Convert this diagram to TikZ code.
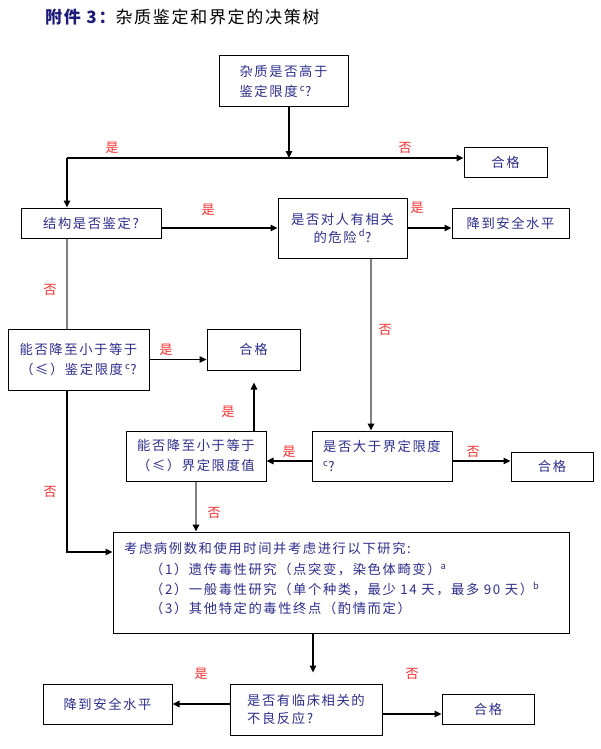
\documentclass[tikz,border=0pt]{standalone}
\usepackage{fontspec}
\setmainfont{Noto Sans CJK SC}[LetterSpace=12]
\newfontfamily\titlefont{Noto Sans CJK SC}[LetterSpace=10]
\usetikzlibrary{arrows.meta,calc}
\definecolor{txtblue}{RGB}{45,45,140}
\definecolor{lblred}{RGB}{255,45,45}
\definecolor{titlenavy}{RGB}{28,28,120}
\definecolor{linegray}{RGB}{128,128,128}
\begin{document}
\begin{tikzpicture}[x=1pt,y=-1pt,
  box/.style={draw=black,line width=1pt,inner sep=0pt,text=txtblue,font=\fontsize{13.3}{20}\selectfont},
  lbl/.style={text=lblred,font=\fontsize{13}{15}\selectfont,inner sep=0pt},
  jline/.style={anchor=west,inner sep=0pt,text=txtblue,font=\fontsize{13.3}{15}\selectfont},
  arr/.style={line width=1.2pt,-{Triangle[length=7pt,width=6.5pt]}},
  garr/.style={draw=linegray,line width=1.8pt,-{Triangle[length=7pt,width=6.5pt,color=black]}},
  gline/.style={draw=linegray,line width=1.8pt},
]
\useasboundingbox (0,0) rectangle (600,749);

% title
\node[anchor=west,inner sep=0pt] (title) at (45,17)
  {\titlefont\fontsize{17}{19}\selectfont\textcolor{titlenavy}{\bfseries 附件 3：}杂质鉴定和界定的决策树};

% boxes
\node[box,minimum width=129pt,minimum height=51pt,align=left] (A) at (283.5,81.5)
  {杂质是否高于\\鉴定限度\,\textsuperscript{c}?};
\node[box,minimum width=83pt,minimum height=30pt] (OK1) at (505.5,162) {合格};
\node[box,minimum width=140pt,minimum height=30pt] (B) at (91,223) {结构是否鉴定?};
\node[box,minimum width=129pt,minimum height=60pt,align=center,font=\fontsize{13.3}{18}\selectfont] (C) at (342.5,228)
  {是否对人有相关\\的危险\,\textsuperscript{d}?};
\node[box,minimum width=117pt,minimum height=30pt] (D) at (510.5,223) {降到安全水平};
\node[box,minimum width=141pt,minimum height=61pt,align=center] (E) at (78.5,359.5)
  {能否降至小于等于\\（≤）鉴定限度\,\textsuperscript{c}?};
\node[box,minimum width=93pt,minimum height=41pt] (F) at (253.5,349.5) {合格};
\node[box,minimum width=140pt,minimum height=50pt,align=left] (G) at (382,456)
  {是否大于界定限度\\\textsuperscript{c}?};
\node[box,minimum width=140pt,minimum height=50pt,align=center] (H) at (196,456)
  {能否降至小于等于\\（≤）界定限度值};
\node[box,minimum width=82pt,minimum height=29pt] (I) at (552,466.5) {合格};
\node[box,minimum width=456pt,minimum height=101pt] (J) at (341,582.5) {};
\node[jline] (J1) at (124,548) {考虑病例数和使用时间并考虑进行以下研究:};
\node[jline] (J2) at (150,570) {（1）遗传毒性研究（点突变，染色体畸变）\textsuperscript{a}};
\node[jline] (J3) at (150,589) {（2）一般毒性研究（单个种类，最少 14 天，最多 90 天）\textsuperscript{b}};
\node[jline] (J4) at (150,608) {（3）其他特定的毒性终点（酌情而定）};
\node[box,minimum width=152pt,minimum height=51pt,align=left,font=\fontsize{13.3}{18}\selectfont] (K) at (306,709.5)
  {是否有临床相关的\\不良反应?};
\node[box,minimum width=129pt,minimum height=40pt] (L) at (107.5,704) {降到安全水平};
\node[box,minimum width=92pt,minimum height=30pt] (M) at (488,709) {合格};

% helper coordinates
\coordinate (t1) at (289,158);
\coordinate (c1) at (67,158);
\coordinate (x2) at (371,0);
\coordinate (y3) at (0,461);
\coordinate (x4) at (254,0);
\coordinate (y5) at (0,552);
\coordinate (x6) at (313,0);
\coordinate (y7) at (0,714);

% connectors
\draw[arr] (A.south -| t1) -- (t1);
\draw[arr] (c1) -- (c1 -| OK1.west);
\draw[arr] (c1) -- (c1 |- B.north);
\draw[arr] (B.east |- C.west) -- (C.west);
\draw[arr] (C.east) -- (C.east -| D.west);
\draw[gline] (c1 |- B.south) -- (c1 |- E.north);
\draw[arr] (E.east) -- (E.east -| F.west);
\draw[garr] (C.south -| x2) -- (G.north -| x2);
\draw[arr] (G.west |- y3) -- (H.east |- y3);
\draw[arr] (G.east |- y3) -- (I.west |- y3);
\draw[arr,shorten >=12pt] (H.north -| x4) -- (F.south -| x4);
\draw[garr] (H.south) -- (H.south |- J.north);
\draw[arr] (c1 |- E.south) -- (c1 |- y5) -- (J.west |- y5);
\draw[arr,shorten >=11pt] (J.south -| x6) -- (K.north -| x6);
\draw[arr] (K.west |- L.east) -- (L.east);
\draw[arr] (K.east |- y7) -- (M.west |- y7);

% labels
\node[lbl] (l1) at (112,148) {是};
\node[lbl] (l2) at (405,148) {否};
\node[lbl] (l3) at (208,210) {是};
\node[lbl] (l4) at (417,208) {是};
\node[lbl] (l5) at (50,290) {否};
\node[lbl] (l6) at (166,350) {是};
\node[lbl] (l7) at (385,330) {否};
\node[lbl] (l8) at (228,412) {是};
\node[lbl] (l9) at (289,452) {是};
\node[lbl] (l10) at (473,452) {否};
\node[lbl] (l11) at (214,513) {否};
\node[lbl] (l12) at (50,492) {否};
\node[lbl] (l13) at (201,674) {是};
\node[lbl] (l14) at (412,674) {否};
\end{tikzpicture}
\end{document}
